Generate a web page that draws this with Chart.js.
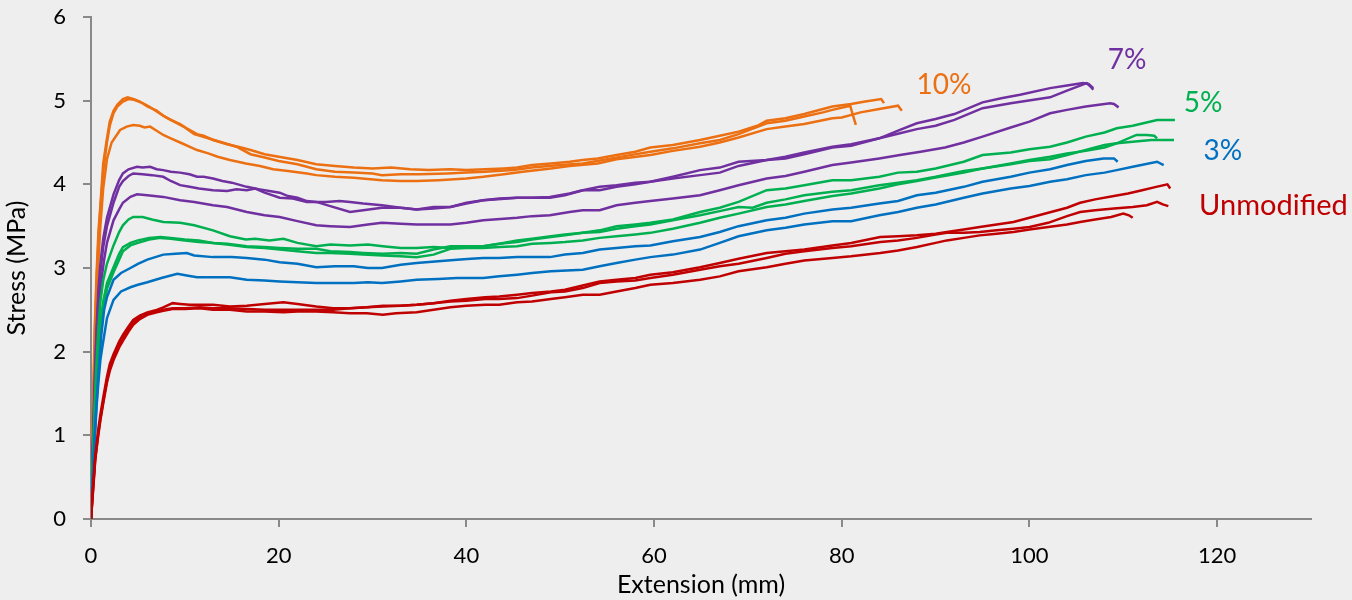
<!DOCTYPE html>
<html>
<head>
<meta charset="utf-8">
<script src="https://cdn.jsdelivr.net/npm/chart.js@4.4.1/dist/chart.umd.min.js"></script>
<style>
  html, body { margin: 0; padding: 0; background: #eeeeee; }
  #wrap { width: 1352px; height: 600px; }
</style>
</head>
<body>
<div id="wrap"><canvas id="c" width="1352" height="600"></canvas></div>
<script>
// ---- Data (Extension mm, Stress MPa) ----
const xTicks = [0, 20, 40, 60, 80, 100, 120];
const yTicks = [0, 1, 2, 3, 4, 5, 6];

const orange1 = [[0,0],[0.2,1.3],[0.4,2.3],[0.6,2.95],[0.8,3.45],[1.0,3.75],[1.3,4.25],[1.7,4.55],[2.0,4.75],[2.4,4.88],[2.8,4.95],[3.4,5.02],[3.9,5.04],[4.5,5.02],[5.2,4.99],[6,4.93],[7,4.88],[7.7,4.82],[8.5,4.77],[9.5,4.72],[10.2,4.67],[11.3,4.6],[12,4.58],[13,4.53],[14.5,4.48],[16,4.44],[17,4.41],[18.5,4.36],[20,4.33],[22,4.29],[24,4.24],[26,4.22],[28,4.2],[30,4.19],[32,4.2],[34,4.18],[36,4.17],[38.3,4.18],[40,4.17],[42,4.18],[44,4.19],[45.4,4.2],[47,4.23],[49,4.25],[51,4.27],[52.4,4.29],[54,4.31],[56,4.35],[58,4.39],[59.6,4.44],[62,4.47],[64.9,4.53],[67,4.58],[69,4.63],[71,4.7],[72,4.76],[74,4.79],[76,4.84],[78,4.9],[79,4.93],[81,4.96],[82.5,4.99],[84.2,5.02],[84.5,4.97]];
const orange2 = [[0,0],[0.2,1.2],[0.4,2.2],[0.6,2.85],[0.8,3.35],[1.0,3.7],[1.3,4.15],[1.7,4.5],[2.0,4.7],[2.4,4.85],[2.8,4.93],[3.4,4.99],[4.0,5.02],[4.6,5.01],[5.5,4.97],[6.2,4.93],[7,4.87],[8,4.8],[9,4.74],[10,4.68],[11,4.6],[12.5,4.55],[14,4.5],[15.5,4.45],[17,4.36],[18.5,4.32],[20,4.28],[22,4.24],[24,4.18],[26,4.15],[28,4.14],[30,4.13],[31,4.11],[33,4.12],[35,4.12],[38,4.13],[40,4.14],[42,4.15],[45,4.17],[47,4.2],[50,4.23],[52.4,4.25],[55,4.3],[57,4.34],[59.6,4.39],[62,4.43],[64.9,4.49],[67,4.53],[69,4.6],[72,4.73],[74,4.76],[76,4.81],[78,4.86],[79,4.89],[80.9,4.94],[81.2,4.82],[81.5,4.71]];
const orange3 = [[0,0],[0.2,1.0],[0.4,1.9],[0.6,2.55],[0.8,3.1],[1.0,3.5],[1.3,3.95],[1.7,4.3],[2.2,4.5],[3.1,4.65],[3.8,4.69],[4.5,4.71],[5.2,4.7],[5.7,4.68],[6.3,4.69],[7,4.64],[7.7,4.59],[8.5,4.55],[9.5,4.5],[11.3,4.41],[12.5,4.37],[13.5,4.33],[14.8,4.29],[16.5,4.25],[18,4.22],[19.4,4.18],[21,4.16],[23,4.13],[24,4.11],[26,4.09],[28,4.08],[31,4.05],[33,4.04],[34.7,4.04],[37,4.05],[40,4.07],[41.8,4.09],[44,4.12],[46,4.15],[49,4.19],[51,4.22],[54,4.25],[56,4.3],[59.6,4.35],[62,4.4],[64.9,4.45],[67,4.5],[69,4.56],[72,4.66],[74,4.69],[76,4.72],[79,4.79],[80,4.8],[82,4.86],[84,4.9],[86,4.94],[86.4,4.88]];

const purple1 = [[0,0],[0.2,0.9],[0.4,1.7],[0.6,2.3],[0.8,2.75],[1.0,3.05],[1.3,3.35],[1.7,3.6],[2.4,3.88],[3.0,4.05],[3.4,4.13],[4.0,4.18],[4.9,4.21],[5.5,4.2],[6.3,4.21],[7,4.18],[7.7,4.17],[8.5,4.15],[9.5,4.14],[10.5,4.12],[11.3,4.09],[12,4.09],[13,4.07],[14,4.04],[15,4.02],[16.6,3.97],[18,3.94],[19,3.92],[20.1,3.9],[21,3.86],[22,3.84],[23,3.8],[24,3.79],[25,3.79],[26.5,3.8],[27.6,3.79],[29,3.77],[31,3.75],[33,3.72],[34.7,3.7],[36.5,3.73],[38.3,3.73],[40,3.77],[41.8,3.81],[43,3.82],[45.4,3.84],[47,3.84],[48.9,3.85],[51,3.89],[52.4,3.93],[54.2,3.97],[56,3.99],[58,4.02],[59.6,4.03],[62,4.09],[64.9,4.17],[67,4.2],[69,4.27],[72,4.29],[74,4.33],[76,4.38],[79,4.45],[81,4.48],[84,4.55],[86.2,4.65],[88,4.73],[90,4.78],[92,4.84],[95,4.98],[97,5.03],[99,5.07],[102.2,5.15],[104,5.18],[105.7,5.21],[106.3,5.2],[106.8,5.15]];
const purple2 = [[0,0],[0.2,0.85],[0.4,1.6],[0.6,2.2],[0.8,2.65],[1.0,2.95],[1.3,3.25],[1.7,3.5],[2.4,3.78],[3.0,3.97],[3.4,4.04],[4.0,4.1],[4.5,4.13],[5.5,4.12],[6.5,4.11],[7.7,4.09],[8.5,4.04],[9.5,3.99],[10.5,3.97],[11.5,3.95],[13,3.93],[14.5,3.92],[15.5,3.94],[16.6,3.93],[17.5,3.95],[18.5,3.9],[20.1,3.84],[21.5,3.83],[23,3.79],[24,3.79],[25.5,3.74],[27.6,3.67],[29,3.69],[31,3.72],[33,3.72],[34.7,3.7],[36.5,3.71],[38.3,3.73],[40,3.78],[41.8,3.81],[43.5,3.83],[45.4,3.84],[48.9,3.84],[50.5,3.87],[52.4,3.93],[54.2,3.93],[56,3.97],[58,4.0],[59.6,4.03],[62,4.07],[64.9,4.11],[67,4.14],[69,4.22],[72,4.29],[74,4.31],[76,4.36],[79,4.44],[81,4.46],[84,4.55],[86.2,4.61],[88,4.66],[90,4.7],[92,4.77],[95,4.91],[98,4.97],[102.2,5.04],[104,5.12],[106.1,5.21],[106.5,5.17],[106.8,5.13]];
const purple3 = [[0,0],[0.2,0.8],[0.4,1.5],[0.6,2.05],[0.8,2.45],[1.1,2.85],[1.4,3.1],[1.7,3.3],[2.4,3.57],[3.0,3.7],[3.4,3.78],[4.2,3.85],[4.9,3.88],[6,3.87],[7.7,3.85],[9.5,3.81],[11,3.79],[13,3.75],[14.5,3.73],[16.6,3.67],[18.5,3.63],[20.1,3.61],[22,3.56],[24,3.51],[25.5,3.5],[27.6,3.49],[29.5,3.52],[31,3.54],[33,3.53],[34.7,3.52],[36.5,3.52],[38.3,3.52],[40,3.54],[41.8,3.57],[44,3.59],[45.4,3.6],[47,3.62],[48.9,3.63],[51,3.67],[52.4,3.69],[54.2,3.69],[56,3.75],[58,3.78],[59.6,3.8],[62,3.83],[64.9,3.87],[67,3.93],[69,3.99],[72,4.07],[74,4.1],[76,4.15],[79,4.23],[81,4.26],[84,4.31],[86.2,4.35],[88.4,4.39],[91,4.44],[93,4.5],[95,4.57],[98,4.68],[100,4.75],[102.2,4.85],[104,4.89],[106,4.93],[108.6,4.97],[109,4.96],[109.5,4.92]];

const green1 = [[0,0],[0.2,0.75],[0.4,1.4],[0.6,1.9],[0.8,2.3],[1.0,2.6],[1.3,2.85],[1.7,3.05],[2.4,3.27],[3.0,3.43],[3.4,3.51],[4.0,3.58],[4.5,3.61],[5.5,3.61],[6.5,3.58],[7.7,3.55],[9.5,3.54],[11,3.51],[13,3.45],[14.8,3.38],[16.5,3.34],[17.5,3.35],[19,3.33],[20.5,3.35],[22,3.3],[24,3.26],[25.5,3.28],[27.6,3.27],[29.5,3.28],[31.1,3.26],[33,3.24],[34.7,3.24],[36.5,3.25],[38.3,3.24],[40,3.25],[41.8,3.26],[43.5,3.29],[45.4,3.31],[47,3.34],[49,3.37],[50.5,3.39],[52.4,3.42],[54.2,3.45],[56,3.5],[58,3.52],[59.6,3.54],[62,3.58],[64.9,3.67],[67,3.72],[69,3.79],[72,3.93],[74,3.95],[76,3.99],[79,4.05],[81,4.05],[84,4.09],[86,4.14],[88,4.15],[90,4.19],[93,4.27],[95,4.35],[98,4.38],[100,4.42],[102.2,4.45],[104,4.5],[106,4.57],[108,4.62],[109.3,4.67],[111,4.7],[113.6,4.77],[115.5,4.77]];
const green2 = [[0,0],[0.2,0.7],[0.4,1.3],[0.6,1.75],[0.8,2.1],[1.0,2.35],[1.3,2.6],[1.7,2.82],[2.4,3.01],[3.0,3.17],[3.4,3.25],[4.2,3.3],[5,3.33],[6.2,3.36],[7.4,3.37],[8.5,3.36],[10,3.34],[11.5,3.33],[13,3.3],[14.5,3.29],[16.6,3.26],[18.5,3.25],[20.1,3.24],[22,3.23],[24,3.23],[25.5,3.2],[27.6,3.19],[29,3.18],[31.1,3.17],[33,3.18],[34.7,3.17],[36.5,3.22],[38.3,3.26],[40,3.26],[41.8,3.26],[43.5,3.29],[45.4,3.33],[47,3.35],[49,3.38],[50.5,3.4],[52.4,3.42],[54.2,3.43],[56,3.47],[58,3.5],[59.6,3.52],[62,3.57],[64.9,3.63],[67,3.68],[69,3.73],[70.5,3.72],[72,3.78],[74,3.82],[76,3.87],[79,3.91],[81,3.93],[84,3.99],[86,4.02],[88,4.05],[90,4.09],[93,4.16],[95,4.19],[98,4.24],[100,4.28],[102.2,4.3],[104,4.35],[106,4.41],[108,4.47],[109.3,4.49],[111.4,4.59],[112.5,4.59],[113.3,4.58],[113.6,4.55]];
const green3 = [[0,0],[0.2,0.65],[0.4,1.2],[0.6,1.65],[0.8,2.0],[1.0,2.25],[1.3,2.5],[1.7,2.75],[2.4,2.95],[3.0,3.1],[3.4,3.2],[4.2,3.27],[5,3.3],[6.2,3.34],[7.4,3.36],[8.5,3.35],[10,3.33],[11.5,3.31],[13,3.3],[14.5,3.28],[16.6,3.25],[18.5,3.24],[20.1,3.22],[22,3.2],[24,3.18],[25.5,3.18],[27.6,3.17],[29,3.16],[31.1,3.15],[33,3.14],[34.7,3.13],[36.5,3.16],[38.3,3.23],[40,3.24],[41.8,3.24],[43.5,3.25],[45.4,3.26],[47,3.29],[49,3.3],[50.5,3.31],[52.4,3.33],[54.2,3.36],[56,3.38],[58,3.4],[59.6,3.42],[62,3.47],[64.9,3.54],[67,3.6],[69,3.65],[72,3.73],[74,3.76],[76,3.8],[79,3.86],[81,3.89],[84,3.95],[86,4.0],[88,4.04],[90,4.08],[93,4.14],[95,4.19],[98,4.25],[100,4.29],[102.2,4.33],[104,4.37],[106,4.4],[108,4.44],[109.3,4.49],[111,4.51],[113,4.53],[115.4,4.53]];

const blue1 = [[0,0],[0.2,0.55],[0.4,1.0],[0.6,1.4],[0.8,1.75],[1.1,2.2],[1.4,2.5],[1.7,2.65],[2.4,2.86],[3.2,2.94],[4.2,3.0],[5,3.05],[6,3.1],[7.7,3.16],[9,3.17],[10.2,3.18],[11,3.15],[13,3.13],[15,3.13],[16.6,3.12],[18.5,3.1],[20.1,3.07],[22,3.05],[24,3.01],[26,3.02],[28,3.02],[29.5,3.0],[31,3.0],[33,3.04],[34.7,3.06],[37,3.08],[39,3.1],[40.5,3.11],[41.8,3.12],[43.5,3.12],[45.4,3.13],[48.9,3.13],[50.5,3.16],[52.4,3.18],[54.2,3.22],[56,3.24],[58,3.26],[59.6,3.27],[62,3.32],[64.9,3.37],[67,3.43],[69,3.5],[72,3.57],[74,3.6],[76,3.65],[79,3.7],[81,3.72],[84,3.77],[86,3.8],[88,3.87],[90,3.9],[93,3.97],[95,4.03],[98,4.09],[100,4.14],[102.2,4.18],[104,4.23],[106,4.28],[107.9,4.31],[109,4.31],[109.4,4.27]];
const blue2 = [[0,0],[0.2,0.5],[0.4,0.95],[0.6,1.35],[0.8,1.65],[1.0,1.9],[1.2,2.05],[1.7,2.4],[2.4,2.62],[3.2,2.72],[4.2,2.77],[5,2.8],[6,2.83],[7.5,2.88],[9.2,2.93],[10.2,2.91],[11.3,2.89],[13,2.89],[14.8,2.89],[16.6,2.86],[18.5,2.85],[20.1,2.84],[22,2.83],[24,2.82],[26,2.82],[28,2.82],[29.5,2.83],[31,2.82],[33,2.84],[34.7,2.86],[37,2.87],[39,2.88],[41.8,2.88],[43.5,2.9],[45.4,2.92],[47,2.94],[49,2.96],[52.4,2.98],[54.2,3.02],[56,3.06],[58,3.1],[59.6,3.13],[62,3.16],[64.9,3.22],[67,3.3],[69,3.38],[72,3.45],[74,3.48],[76,3.52],[79,3.56],[81,3.56],[84,3.63],[86,3.67],[88,3.72],[90,3.76],[93,3.84],[95,3.89],[98,3.95],[100,3.98],[102.2,4.03],[104,4.06],[106,4.11],[108,4.14],[109.3,4.17],[111,4.21],[113.6,4.27],[114.3,4.23]];

const red1 = [[0,0],[0.2,0.35],[0.45,0.75],[0.75,1.05],[1.0,1.25],[1.3,1.45],[1.7,1.7],[2.0,1.85],[2.4,1.97],[3.0,2.12],[3.4,2.2],[4.0,2.3],[4.5,2.38],[5.2,2.43],[6,2.47],[7,2.5],[7.7,2.53],[8.7,2.58],[9.5,2.57],[10.5,2.56],[11.6,2.56],[13,2.56],[14.8,2.54],[16.6,2.55],[18.5,2.57],[20.5,2.59],[22,2.57],[24,2.54],[25.8,2.52],[27.6,2.52],[29.4,2.53],[31.1,2.55],[33,2.55],[34.7,2.56],[36.5,2.58],[38.3,2.61],[40,2.63],[42,2.65],[43.5,2.66],[45.4,2.68],[47,2.7],[49,2.72],[50.5,2.74],[52.4,2.79],[54.2,2.84],[56,2.86],[58,2.88],[59.6,2.92],[62,2.95],[64.9,3.01],[67,3.06],[69,3.11],[72,3.18],[74,3.2],[76,3.22],[79,3.27],[81,3.3],[84.1,3.37],[86,3.38],[88,3.39],[90,3.41],[91.2,3.43],[93,3.46],[94.7,3.49],[96.5,3.52],[98.3,3.55],[100,3.6],[102,3.66],[104,3.72],[105.4,3.78],[107,3.82],[109,3.86],[110.5,3.89],[112,3.93],[113.5,3.97],[114.7,4.0],[115,3.95]];
const red2 = [[0,0],[0.2,0.33],[0.45,0.72],[0.75,1.0],[1.0,1.2],[1.3,1.4],[1.7,1.66],[2.0,1.8],[2.4,1.92],[3.0,2.08],[3.4,2.16],[4.0,2.27],[4.5,2.35],[5.2,2.41],[6,2.45],[7,2.48],[7.7,2.5],[8.7,2.52],[10,2.52],[11.6,2.53],[13,2.52],[14.8,2.52],[16.6,2.51],[18.5,2.5],[20.5,2.5],[22,2.5],[24,2.5],[25.8,2.5],[27.6,2.52],[29.4,2.53],[31.1,2.54],[33,2.55],[34.7,2.56],[36.5,2.58],[38.3,2.6],[40,2.61],[42,2.63],[43.5,2.63],[45.4,2.64],[47,2.67],[49,2.71],[50.5,2.72],[52.4,2.76],[54.2,2.82],[56,2.84],[58,2.85],[59.6,2.88],[62,2.92],[64.9,2.98],[67,3.02],[69,3.05],[72,3.12],[74,3.17],[76,3.2],[79,3.24],[81,3.26],[84.1,3.31],[86,3.33],[88,3.36],[90,3.4],[91.2,3.42],[93,3.42],[94.7,3.43],[96.5,3.45],[98.3,3.47],[100,3.49],[102,3.54],[104,3.62],[105.4,3.67],[107,3.69],[109,3.71],[111,3.73],[112.5,3.75],[113.6,3.79],[114.2,3.76],[114.8,3.74]];
const red3 = [[0,0],[0.2,0.3],[0.45,0.7],[0.75,0.98],[1.0,1.18],[1.3,1.38],[1.7,1.63],[2.0,1.77],[2.4,1.9],[3.0,2.05],[3.4,2.13],[4.0,2.24],[4.5,2.32],[5.2,2.39],[6,2.44],[7,2.47],[7.7,2.49],[8.7,2.51],[10,2.51],[11.6,2.52],[13,2.5],[14.8,2.5],[16.6,2.48],[18.5,2.48],[20.5,2.47],[22,2.48],[24,2.48],[25.8,2.47],[27.6,2.46],[29.4,2.46],[31.1,2.44],[32.5,2.46],[34.7,2.47],[36.5,2.5],[38.3,2.53],[40,2.55],[42,2.56],[43.5,2.56],[45.4,2.59],[47,2.6],[49,2.63],[50.5,2.65],[52.4,2.68],[54.2,2.68],[56,2.72],[58,2.76],[59.6,2.8],[62,2.82],[64.9,2.86],[67,2.9],[69,2.96],[72,3.01],[74,3.05],[76,3.09],[79,3.12],[81,3.14],[84.1,3.18],[86,3.21],[88,3.25],[90,3.3],[91.2,3.33],[93,3.36],[94.7,3.39],[96.5,3.41],[98.3,3.43],[100,3.46],[102,3.49],[104,3.52],[105.4,3.55],[107,3.58],[108.7,3.61],[110,3.65],[110.6,3.63],[111,3.6]];

const groupLabels = ["10%", "7%", "5%", "3%", "Unmodified"];
const labelAnchors = [[90.9, 5.19], [110.4, 5.49], [118.5, 4.97], [120.6, 4.40], [126.0, 3.74]];

// ---- Styling ----
const COLORS = { orange: '#EC7012', purple: '#7030A0', green: '#00B050', blue: '#0070C0', red: '#C00000' };
const labelColors = [COLORS.orange, COLORS.purple, COLORS.green, COLORS.blue, COLORS.red];
const FONT = 'Lato, "Open Sans", "Liberation Sans", sans-serif';
const AXIS = '#898989';

const series = [
  [red1, COLORS.red], [red2, COLORS.red], [red3, COLORS.red],
  [blue1, COLORS.blue], [blue2, COLORS.blue],
  [green1, COLORS.green], [green2, COLORS.green], [green3, COLORS.green],
  [purple1, COLORS.purple], [purple2, COLORS.purple], [purple3, COLORS.purple],
  [orange1, COLORS.orange], [orange2, COLORS.orange], [orange3, COLORS.orange]
];

const datasets = series.map(([pts, col]) => ({
  data: pts.map(([x, y]) => ({ x, y })),
  borderColor: col,
  backgroundColor: col,
  borderWidth: 2.5,
  pointRadius: 0,
  showLine: true,
  tension: 0,
  fill: false
}));

const bgPlugin = {
  id: 'bg',
  beforeDraw(chart) {
    const ctx = chart.ctx;
    ctx.save();
    ctx.fillStyle = '#eeeeee';
    ctx.fillRect(0, 0, chart.width, chart.height);
    ctx.restore();
  }
};

const labelPlugin = {
  id: 'groupLabels',
  afterDatasetsDraw(chart) {
    const ctx = chart.ctx;
    const xs = chart.scales.x, ys = chart.scales.y;
    ctx.save();
    ctx.textAlign = 'center';
    ctx.textBaseline = 'middle';
    groupLabels.forEach((t, i) => {
      ctx.font = (i === 4 ? '29px ' : '28px ') + FONT;
      ctx.fillStyle = labelColors[i];
      ctx.fillText(t, xs.getPixelForValue(labelAnchors[i][0]), ys.getPixelForValue(labelAnchors[i][1]));
    });
    ctx.restore();
  }
};

new Chart(document.getElementById('c'), {
  type: 'scatter',
  data: { datasets },
  plugins: [bgPlugin, labelPlugin],
  options: {
    responsive: false,
    animation: false,
    layout: { padding: { top: 17, right: 41, left: 0, bottom: 0 } },
    plugins: { legend: { display: false }, tooltip: { enabled: false } },
    scales: {
      x: {
        type: 'linear',
        min: 0, max: 130,
        afterBuildTicks(scale) { scale.ticks = xTicks.map(v => ({ value: v })); },
        afterFit(scale) { scale.height = 81; scale.paddingLeft = 0; scale.paddingRight = 0; },
        ticks: { font: { family: FONT, size: 22 }, color: '#000', padding: 16, maxRotation: 0 },
        grid: { drawOnChartArea: false, drawTicks: true, tickLength: 8, color: AXIS, lineWidth: 2 },
        border: { display: true, color: AXIS, width: 2 },
        title: { display: true, text: 'Extension (mm)', font: { family: FONT, size: 25 }, color: '#000', padding: { top: 0, bottom: 0 } }
      },
      y: {
        type: 'linear',
        min: 0, max: 6,
        afterBuildTicks(scale) { scale.ticks = yTicks.map(v => ({ value: v })); },
        afterFit(scale) { scale.width = 91; scale.paddingTop = 0; scale.paddingBottom = 0; },
        ticks: { font: { family: FONT, size: 22 }, color: '#000', padding: 17 },
        grid: { drawOnChartArea: false, drawTicks: true, tickLength: 8, color: AXIS, lineWidth: 2 },
        border: { display: true, color: AXIS, width: 2 },
        title: { display: true, text: 'Stress (MPa)', font: { family: FONT, size: 25 }, color: '#000', padding: { top: 2, bottom: 0 } }
      }
    }
  }
});
</script>
</body>
</html>
